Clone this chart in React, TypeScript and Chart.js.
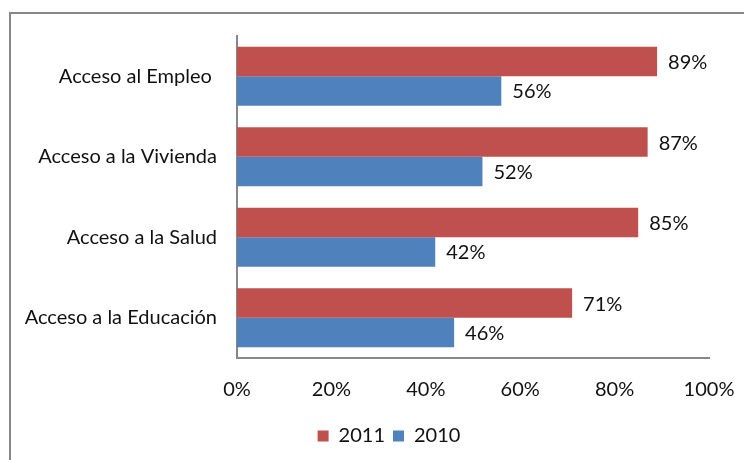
import React, { useEffect, useRef } from "react";
import { Chart, registerables } from "chart.js";

Chart.register(...registerables);

const categories = [
  "Acceso al Empleo ",
  "Acceso a la Vivienda",
  "Acceso a la Salud",
  "Acceso a la Educación",
];
const series2011 = [89, 87, 85, 71];
const series2010 = [56, 52, 42, 46];
const seriesNames = ["2011", "2010"];
const xTicks = [0, 20, 40, 60, 80, 100];

const FONT = "Lato, 'Open Sans', sans-serif";
const TEXT = "#111111";
const AXIS = "#878787";

const valueLabels = {
  id: "valueLabels",
  afterDatasetsDraw(chart: any) {
    const ctx = chart.ctx;
    ctx.save();
    ctx.font = `20px ${FONT}`;
    ctx.fillStyle = TEXT;
    ctx.textAlign = "left";
    ctx.textBaseline = "middle";
    chart.data.datasets.forEach((ds: any, di: number) => {
      const meta = chart.getDatasetMeta(di);
      meta.data.forEach((el: any, i: number) => {
        ctx.fillText(`${ds.data[i]}%`, el.x + 11, el.y + 1);
      });
    });
    ctx.restore();
  },
};

const legendShift = {
  id: "legendShift",
  afterLayout(chart: any) {
    const lg = chart.legend;
    if (!lg) return;
    const target = 389;
    const cur = (lg.left + lg.right) / 2;
    const d = target - cur;
    lg.left += d;
    lg.right += d;
  },
};

export default function App() {
  const ref = useRef<HTMLCanvasElement | null>(null);
  useEffect(() => {
    if (!ref.current) return;
    const chart = new Chart(ref.current, {
      type: "bar",
      data: {
        labels: categories,
        datasets: [
          {
            label: seriesNames[0],
            data: series2011,
            backgroundColor: "#C0504D",
            borderWidth: 0,
            categoryPercentage: 0.73,
            barPercentage: 1,
          },
          {
            label: seriesNames[1],
            data: series2010,
            backgroundColor: "#4F81BD",
            borderWidth: 0,
            categoryPercentage: 0.73,
            barPercentage: 1,
          },
        ],
      },
      options: {
        indexAxis: "y",
        responsive: false,
        animation: false,
        events: [],
        layout: { padding: { left: 0, right: 35, top: 36, bottom: 4 } },
        plugins: {
          tooltip: { enabled: false },
          title: { display: false },
          legend: {
            display: true,
            position: "bottom",
            labels: {
              boxWidth: 11,
              boxHeight: 11,
              padding: 8,
              color: TEXT,
              font: { family: FONT, size: 20 },
            },
          },
        },
        scales: {
          x: {
            min: 0,
            max: 100,
            afterBuildTicks(scale: any) {
              scale.ticks = xTicks.map((v) => ({ value: v }));
            },
            afterFit(scale: any) {
              const lh = scale.chart.legend ? scale.chart.legend.height : 0;
              scale.height = 460 - 358 - lh - 4;
              scale.paddingLeft = 0;
              scale.paddingRight = 0;
            },
            grid: { display: false, drawTicks: false },
            border: { display: true, color: AXIS, width: 2 },
            ticks: {
              padding: 20,
              color: TEXT,
              font: { family: FONT, size: 20 },
              callback: (v: any) => `${v}%`,
            },
          },
          y: {
            afterFit(scale: any) {
              scale.width = 237;
              scale.paddingTop = 0;
              scale.paddingBottom = 0;
            },
            grid: { display: false, drawTicks: false },
            border: { display: true, color: AXIS, width: 2 },
            ticks: {
              padding: 20,
              color: TEXT,
              font: { family: FONT, size: 20 },
            },
          },
        },
      },
      plugins: [valueLabels, legendShift],
    });
    return () => chart.destroy();
  }, []);

  return (
    <div>
      <div
        style={{
          position: "absolute",
          left: 9,
          top: 12,
          width: 735,
          height: 448,
          boxSizing: "border-box",
          borderLeft: `2px solid ${AXIS}`,
          borderTop: `2px solid ${AXIS}`,
        }}
      />
      <canvas
        ref={ref}
        width={744}
        height={460}
        style={{ position: "absolute", left: 0, top: 0, width: 744, height: 460 }}
      />
    </div>
  );
}
